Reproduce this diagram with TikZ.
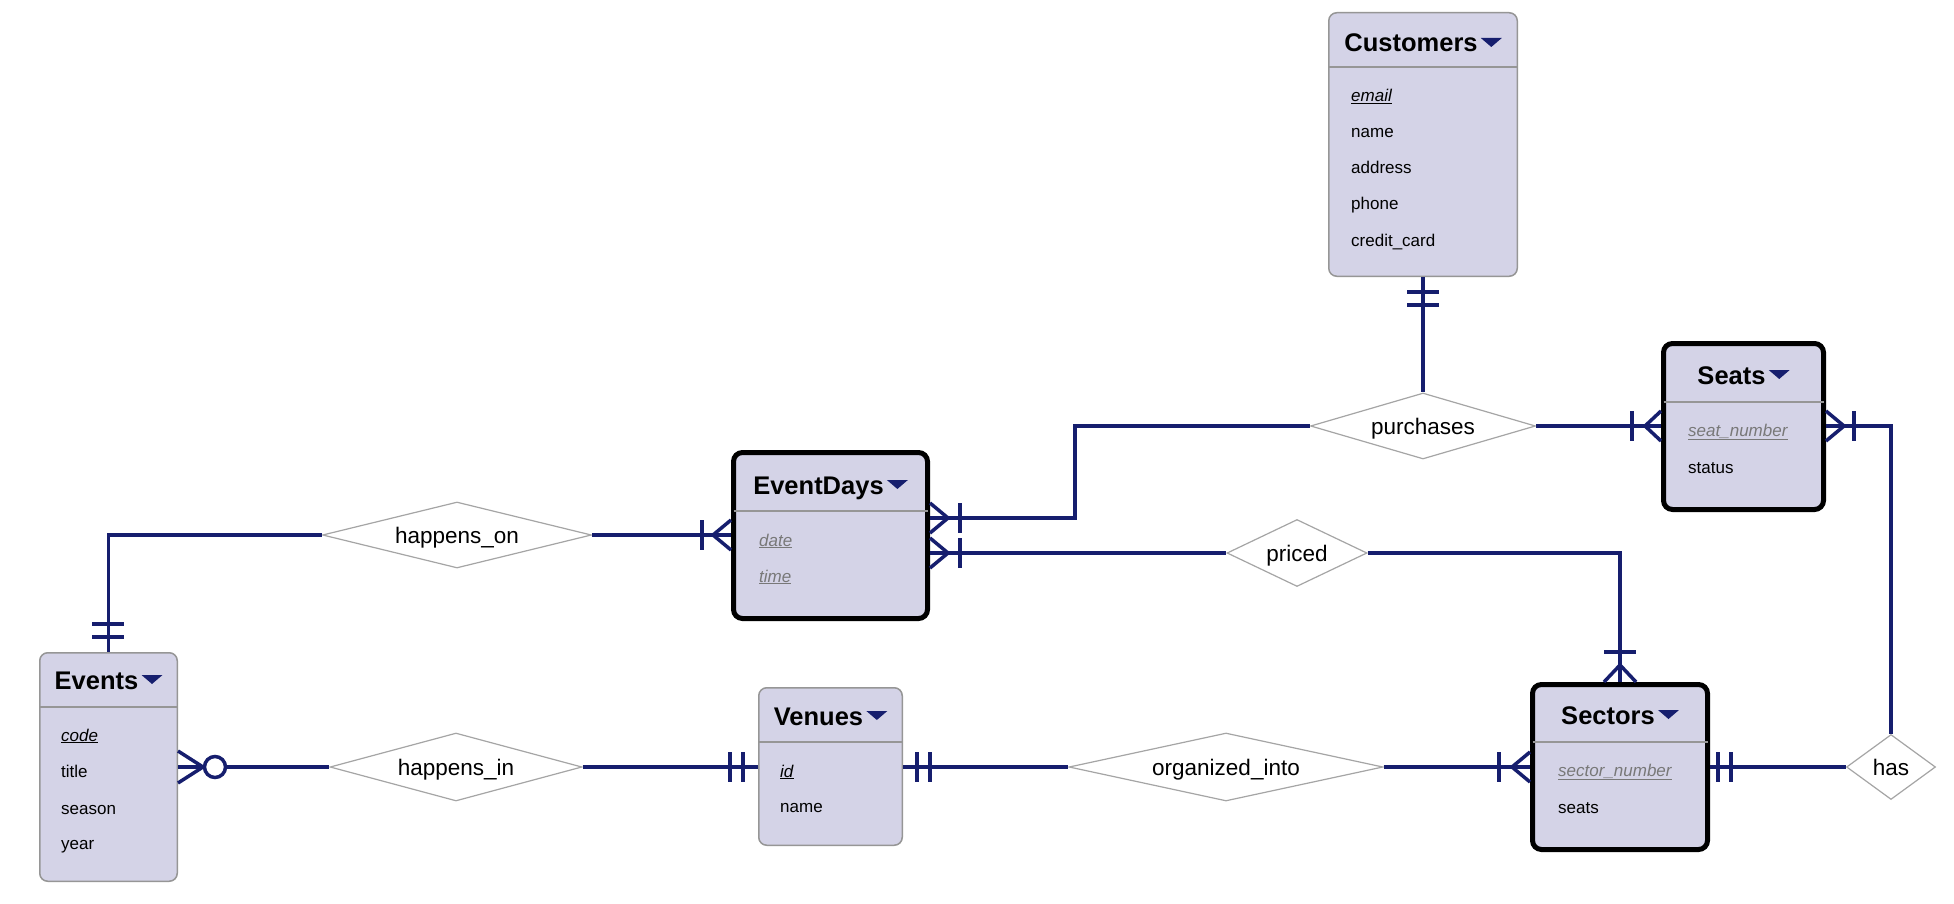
\documentclass[tikz,border=0pt]{standalone}
\usepackage{fontspec}
\setmainfont{Liberation Sans}
\usetikzlibrary{shapes.geometric}
\definecolor{navy}{RGB}{22,30,110}
\definecolor{entfill}{RGB}{212,211,231}
\definecolor{entline}{RGB}{150,150,150}
\definecolor{relline}{RGB}{165,165,165}
\definecolor{keygray}{RGB}{120,120,120}
\tikzset{
  conn/.style={draw=navy, line width=3.5pt},
  ent/.style={draw=entline, fill=entfill, line width=1.5pt, rounded corners=8pt, inner sep=0pt},
  weak/.style={draw=black, fill=entfill, line width=5pt, rounded corners=9pt, inner sep=0pt},
  sepline/.style={draw=entline, line width=1.5pt},
  rel/.style={diamond, draw=relline, fill=white, line width=1.2pt, inner sep=0pt,
    text height=16pt, text depth=0pt, font=\fontsize{22.5}{24}\selectfont},
  ttl/.style={anchor=base, inner sep=0pt, font=\fontsize{25.5}{28}\selectfont\bfseries},
  att/.style={anchor=base west, inner sep=0pt, font=\fontsize{17}{20}\selectfont},
  wkey/.style={att, text=keygray},
}
\newcommand\enttitle[4]{%
  \node[ttl] (#1) at (#2,#3) {#4};
  \fill[navy] ([xshift=3pt,yshift=14pt]#1.base east) -- ++(21pt,0pt) -- ++(-10.5pt,-9pt) -- cycle;}
\begin{document}
\begin{tikzpicture}[x=1pt,y=-1pt]
\fill[white] (0,0) rectangle (1954,904);
\useasboundingbox (0,0) rectangle (1954,904);

% ---------- entities ----------
% Customers
\node[ent, minimum width=188.5pt, minimum height=263.5pt] (cust) at (1423,144.5) {};
\draw[sepline] (cust.west |- 0,67) -- (cust.east |- 0,67);
\enttitle{custT}{1411}{52}{Customers}
\node[att] (c1) at (1351,102) {\underline{\textit{email}}};
\node[att] (c2) at (1351,138) {name};
\node[att] (c3) at (1351,174) {address};
\node[att] (c4) at (1351,210) {phone};
\node[att] (c5) at (1351,246) {credit\_card};

% Seats
\node[weak, minimum width=160pt, minimum height=166pt] (seats) at (1743.5,426.5) {};
\draw[sepline] ([xshift=2.5pt]seats.west |- 0,402) -- ([xshift=-2.5pt]seats.east |- 0,402);
\enttitle{seatsT}{1731.5}{384}{Seats}
\node[wkey] (s1) at (1688,436) {\underline{\textit{seat\_number}}};
\node[att] (s2) at (1688,473) {status};

% EventDays
\node[weak, minimum width=194pt, minimum height=166pt] (ed) at (830.5,535.5) {};
\draw[sepline] ([xshift=2.5pt]ed.west |- 0,511) -- ([xshift=-2.5pt]ed.east |- 0,511);
\enttitle{edT}{818.5}{494}{EventDays}
\node[wkey] (d1) at (759,546) {\underline{\textit{date}}};
\node[wkey] (d2) at (759,582) {\underline{\textit{time}}};

% Events
\node[ent, minimum width=137.5pt, minimum height=228.5pt] (ev) at (108.5,767) {};
\draw[sepline] (ev.west |- 0,707) -- (ev.east |- 0,707);
\enttitle{evT}{96.5}{689}{Events}
\node[att] (e1) at (61,741) {\underline{\textit{code}}};
\node[att] (e2) at (61,777) {title};
\node[att] (e3) at (61,814) {season};
\node[att] (e4) at (61,849) {year};

% Venues
\node[ent, minimum width=143.5pt, minimum height=157.5pt] (ven) at (830.5,766.5) {};
\draw[sepline] (ven.west |- 0,742) -- (ven.east |- 0,742);
\enttitle{venT}{818.5}{725}{Venues}
\node[att] (v1) at (780,777) {\underline{\textit{id}}};
\node[att] (v2) at (780,812) {name};

% Sectors
\node[weak, minimum width=175pt, minimum height=165pt] (sec) at (1620,767) {};
\draw[sepline] ([xshift=2.5pt]sec.west |- 0,742) -- ([xshift=-2.5pt]sec.east |- 0,742);
\enttitle{secT}{1608}{724}{Sectors}
\node[wkey] (x1) at (1558,776) {\underline{\textit{sector\_number}}};
\node[att] (x2) at (1558,813) {seats};

% ---------- relationships ----------
\node[rel, shape aspect=3.41, minimum width=225pt, minimum height=66pt] (pur) at (1423,426) {purchases};
\node[rel, shape aspect=4.08, minimum width=269pt, minimum height=66pt] (hon) at (457,535) {happens\_on};
\node[rel, shape aspect=2.09, minimum width=140pt, minimum height=67pt] (pri) at (1297,553) {priced};
\node[rel, shape aspect=3.71, minimum width=252pt, minimum height=68pt] (hin) at (456,767) {happens\_in};
\node[rel, shape aspect=4.62, minimum width=314pt, minimum height=68pt] (org) at (1226,767) {organized\_into};
\node[rel, shape aspect=1.37, minimum width=89pt, minimum height=65pt] (has) at (1891,767) {has};

% ---------- connectors ----------
% Customers -- purchases
\draw[conn] (cust.south) -- (pur.north);
\draw[conn] (1407,292) -- (1439,292) (1407,305) -- (1439,305);

% purchases -- Seats
\draw[conn] (pur.east) -- (seats.west |- pur.east);
\draw[conn] (1632,411) -- (1632,441);
\draw[conn, line join=round] (1661,411) -- (1645,426) -- (1661,441);

% EventDays -- purchases
\coordinate (edp) at (1075,426);
\draw[conn] (ed.east |- 0,518) -- (edp |- 0,518) -- (edp) -- (pur.west);
\draw[conn] (960,503) -- (960,533);
\draw[conn, line join=round] (930,503) -- (948,518) -- (930,533);

% EventDays -- priced
\draw[conn] (ed.east |- pri.west) -- (pri.west);
\draw[conn] (960,538) -- (960,568);
\draw[conn, line join=round] (930,538) -- (948,553) -- (930,568);

% priced -- Sectors
\draw[conn] (pri.east) -- (sec.north |- pri.east) -- (sec.north);
\draw[conn] (1604,652) -- (1636,652);
\draw[conn, line join=round] (1604,682) -- (1620,665) -- (1636,682);

% happens_on -- Events
\draw[conn] (hon.west) -- (ev.north |- hon.west) -- (ev.north);
\draw[conn] (92,624) -- (124,624) (92,637) -- (124,637);

% happens_on -- EventDays
\draw[conn] (hon.east) -- (ed.west |- hon.east);
\draw[conn] (702,520) -- (702,550);
\draw[conn, line join=round] (731,520) -- (713,535) -- (731,550);

% Events -- happens_in
\draw[conn] (ev.east |- hin.west) -- (hin.west);
\draw[conn, line join=round] (178,751) -- (203,767) -- (178,783);
\draw[conn, fill=white] (215,767) circle[radius=10.5pt];

% happens_in -- Venues
\draw[conn] (hin.east) -- (ven.west |- hin.east);
\draw[conn] (730,752) -- (730,782) (743,752) -- (743,782);

% Venues -- organized_into
\draw[conn] (ven.east |- org.west) -- (org.west);
\draw[conn] (917,752) -- (917,782) (930,752) -- (930,782);

% organized_into -- Sectors
\draw[conn] (org.east) -- (sec.west |- org.east);
\draw[conn] (1499,752) -- (1499,782);
\draw[conn, line join=round] (1530,752) -- (1512,767) -- (1530,782);

% Sectors -- has
\draw[conn] (sec.east |- has.west) -- (has.west);
\draw[conn] (1718,752) -- (1718,782) (1731,752) -- (1731,782);

% Seats -- has
\draw[conn] (seats.east |- 0,426) -- (has.north |- 0,426) -- (has.north);
\draw[conn] (1854,411) -- (1854,441);
\draw[conn, line join=round] (1826,411) -- (1844,426) -- (1826,441);
\end{tikzpicture}
\end{document}
